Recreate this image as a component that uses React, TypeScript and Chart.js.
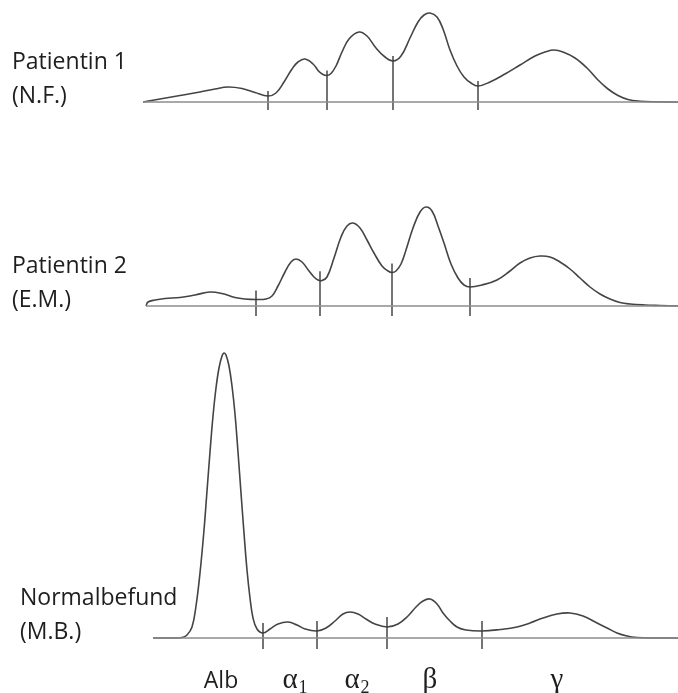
import React, { useEffect, useRef } from "react";
import { Chart, registerables } from "chart.js";

Chart.register(...registerables);

// ---- Data (migration position -> relative intensity) ----
const P1_X = [143, 160, 180, 200, 215, 228, 242, 255, 268, 276, 284, 292, 298, 305, 313, 319, 323, 327, 331, 336, 342, 349, 359, 367, 376, 385, 393, 401, 410, 418, 424, 430, 437, 443, 450, 457, 464, 471, 478, 490, 505, 520, 535, 545, 554, 563, 575, 587, 598, 608, 618, 628, 640, 655, 678];
const P1_Y = [0, 3, 6.5, 10, 13, 15, 13.5, 9.5, 6, 9, 20, 33, 40, 43, 38, 30.5, 27.5, 26.5, 28.5, 36, 50, 63, 70, 66, 54, 45, 41, 46, 64, 80, 87, 89, 85, 73, 52, 36, 25, 19, 16, 20, 28, 37, 46, 50, 52, 50, 44, 34, 22, 13, 6.5, 2.5, 0.8, 0.2, 0];

const P2_X = [146, 148, 155, 165, 180, 195, 210, 222, 235, 245, 256, 266, 272, 278, 285, 291, 296, 302, 309, 314, 318, 322, 327, 334, 341, 347, 353, 360, 367, 374, 382, 388, 392, 396, 401, 406, 413, 420, 426, 432, 438, 444, 451, 458, 464, 470, 482, 497, 510, 520, 530, 540, 550, 560, 570, 580, 590, 600, 610, 620, 630, 645, 660, 678];
const P2_Y = [0, 4, 6, 7.5, 8.5, 11, 14, 12.5, 8.5, 7, 6.5, 7, 10, 20, 34, 44, 47, 44, 35, 29, 26, 25.5, 29, 48, 69, 80, 83, 78, 66, 53, 40, 35, 33.5, 35, 42, 56, 78, 94, 99, 95, 80, 63, 42, 28, 21, 19, 21, 26, 35, 43, 48, 50, 49, 44, 37, 28, 19, 12, 7, 3.5, 2, 1, 0.5, 0];

const N_X = [153, 170, 182, 187, 192, 196, 200, 204, 207, 210, 213, 216, 219, 222, 224, 226, 229, 232, 235, 238, 241, 244, 247, 250, 253, 257, 263, 270, 278, 288, 297, 305, 317, 326, 335, 343, 350, 358, 366, 375, 387, 398, 408, 416, 423, 430, 437, 443, 450, 457, 466, 482, 500, 517, 530, 543, 557, 570, 583, 597, 607, 617, 627, 637, 650, 678];
const N_Y = [0, 0, 0.5, 3, 11, 32, 65, 108, 147, 186, 222, 250, 270, 282, 285, 283, 272, 252, 224, 186, 145, 105, 68, 40, 20, 9, 5, 9, 14, 16, 13, 9, 7, 10, 17, 24, 26, 24, 19, 14, 11, 14, 22, 31, 37, 39, 34, 25, 17, 11, 8, 7, 8.5, 11, 15, 20, 24, 25, 22, 15, 10, 5, 2, 0.5, 0, 0];

// fraction separators (migration positions)
const P1_SEP = [268, 327, 393, 478];
const P2_SEP = [256, 320, 392, 470];
const N_SEP = [263, 317, 387, 482];

// panel labels
const PANEL_NAMES = ["Patientin 1", "Patientin 2", "Normalbefund"];
const PANEL_IDS = ["(N.F.)", "(E.M.)", "(M.B.)"];

// fraction labels
const FRACTIONS = ["Alb", "α", "α", "β", "γ"];
const FRACTION_SUBS = ["", "1", "2", "", ""];
const FRACTION_POS = [221, 295, 357, 430, 557];

// ---- Layout (not data) ----
const W = 678;
const H = 693;
const PANELS = [
  { base: 102, start: 143, tickUp: 5, tickDown: 8, textX: 12 },
  { base: 306, start: 146, tickUp: 9, tickDown: 10, textX: 12 },
  { base: 638, start: 153, tickUp: 10, tickDown: 11, textX: 20 },
];
const CURVE_COLOR = "#444444";
const BASE_COLOR = "#8c8c8c";
const TICK_COLOR = "#3a3a3a";
const TEXT_COLOR = "#1e1e1e";

function interp(xs: number[], ys: number[], x: number) {
  for (let i = 0; i < xs.length - 1; i++) {
    if (x >= xs[i] && x <= xs[i + 1]) {
      const t = (x - xs[i]) / (xs[i + 1] - xs[i]);
      return ys[i] + t * (ys[i + 1] - ys[i]);
    }
  }
  return 0;
}

export default function App() {
  const ref = useRef<HTMLCanvasElement | null>(null);

  useEffect(() => {
    if (!ref.current) return;
    const curves = [
      { xs: P1_X, ys: P1_Y, seps: P1_SEP },
      { xs: P2_X, ys: P2_Y, seps: P2_SEP },
      { xs: N_X, ys: N_Y, seps: N_SEP },
    ];
    const datasets: any[] = [];
    curves.forEach((c, i) => {
      const p = PANELS[i];
      datasets.push({
        data: [
          { x: p.start, y: p.base },
          { x: W, y: p.base },
        ],
        borderColor: BASE_COLOR,
        borderWidth: 1.6,
        showLine: true,
        pointRadius: 0,
        clip: false,
      });
      c.seps.forEach((sx) => {
        const h = interp(c.xs, c.ys, sx);
        datasets.push({
          data: [
            { x: sx, y: p.base - h - p.tickUp },
            { x: sx, y: p.base + p.tickDown },
          ],
          borderColor: TICK_COLOR,
          borderWidth: 1.4,
          showLine: true,
          pointRadius: 0,
          clip: false,
        });
      });
      datasets.push({
        data: c.xs.map((x, k) => ({ x, y: p.base - c.ys[k] })),
        borderColor: CURVE_COLOR,
        borderWidth: 1.6,
        showLine: true,
        pointRadius: 0,
        tension: 0.4,
        clip: false,
      });
    });

    const textPlugin = {
      id: "texts",
      afterDatasetsDraw(chart: any) {
        const ctx = chart.ctx;
        const xs = chart.scales.x;
        const ys = chart.scales.y;
        ctx.save();
        ctx.fillStyle = TEXT_COLOR;
        ctx.textBaseline = "alphabetic";
        ctx.font = '23px "Open Sans"';
        ctx.textAlign = "left";
        PANELS.forEach((p, i) => {
          ctx.fillText(PANEL_NAMES[i], xs.getPixelForValue(p.textX), ys.getPixelForValue(p.base - 33));
          ctx.fillText(PANEL_IDS[i], xs.getPixelForValue(p.textX), ys.getPixelForValue(p.base + 1));
        });
        const yb = ys.getPixelForValue(688);
        FRACTIONS.forEach((f, i) => {
          const cx = xs.getPixelForValue(FRACTION_POS[i]);
          if (f === "Alb") {
            ctx.font = '23px "Open Sans"';
            ctx.textAlign = "center";
            ctx.fillText(f, cx, yb);
          } else {
            ctx.font = '29px "Liberation Serif"';
            const wMain = ctx.measureText(f).width;
            const sub = FRACTION_SUBS[i];
            ctx.font = '18px "Liberation Serif"';
            const wSub = sub ? ctx.measureText(sub).width + 1 : 0;
            const left = cx - (wMain + wSub) / 2;
            ctx.textAlign = "left";
            ctx.font = '29px "Liberation Serif"';
            ctx.fillText(f, left, yb);
            if (sub) {
              ctx.font = '18px "Liberation Serif"';
              ctx.fillText(sub, left + wMain + 1, yb + 5);
            }
          }
        });
        ctx.restore();
      },
    };

    const chart = new Chart(ref.current, {
      type: "scatter",
      data: { datasets },
      options: {
        animation: false,
        responsive: false,
        maintainAspectRatio: false,
        layout: { padding: 0 },
        events: [],
        plugins: { legend: { display: false }, tooltip: { enabled: false } },
        scales: {
          x: { type: "linear", min: 0, max: W, display: false },
          y: { type: "linear", min: 0, max: H, reverse: true, display: false },
        },
      },
      plugins: [textPlugin],
    });
    return () => chart.destroy();
  }, []);

  return (
    <div style={{ position: "absolute", left: 0, top: 0, width: W, height: H, background: "#fff" }}>
      <canvas ref={ref} width={W} height={H} style={{ display: "block" }} />
    </div>
  );
}
